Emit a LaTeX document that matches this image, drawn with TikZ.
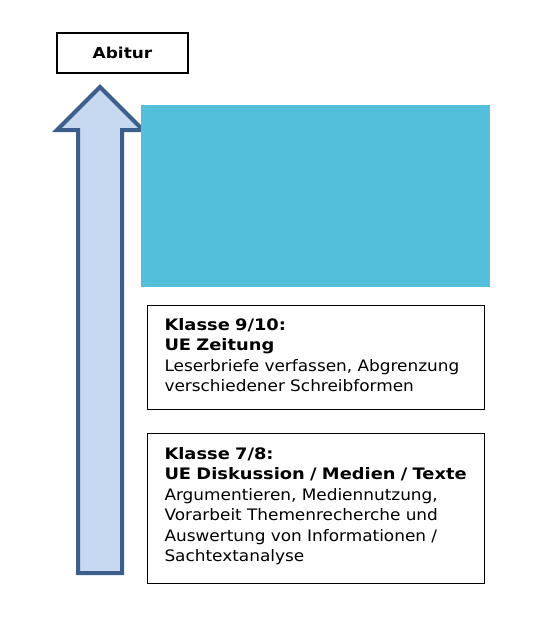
\documentclass[tikz,border=0pt]{standalone}
\usepackage{fontspec}
\setmainfont[FakeStretch=1.07, BoldFeatures={FakeStretch=1.13}]{DejaVu Sans}
\usepackage{tikz}
\usetikzlibrary{positioning}
\definecolor{arrowline}{HTML}{3B5E8C}
\definecolor{arrowfill}{HTML}{C6D9F1}
\definecolor{cyanblock}{HTML}{53BFDB}

\begin{document}
\begin{tikzpicture}[
  x=1pt, y=-1pt,
  box/.style={rectangle, draw=black, line width=1pt, fill=white,
              text width=337pt, align=left, inner sep=0pt,
              font=\fontsize{15.8}{20.5}\selectfont, anchor=north west},
  goal/.style={rectangle, draw=black, line width=1.2pt,
               minimum width=131pt, minimum height=40pt,
               font=\fontsize{15}{17}\selectfont\bfseries}
]
\useasboundingbox (0,0) rectangle (560,630);
\node[goal] (abi) at (122.5,53) {Abitur};
% growth arrow
\filldraw[draw=arrowline, fill=arrowfill, line width=4pt, miter limit=10]
  (100,87) -- (143,130) -- (122,130) -- (122,573) -- (78,573)
  -- (78,130) -- (57,130) -- cycle;
\fill[cyanblock] (141,105) rectangle (490,287);
\node[box, minimum height=104pt] (k910) at (147,305)
  {\rule{0pt}{2pt}\\[-15.5pt]\hspace*{17pt}\parbox[t]{318pt}{\textbf{Klasse 9/10:}\\
   \textbf{UE Zeitung}\\
   Leserbriefe verfassen, Abgrenzung\\
   verschiedener Schreibformen}};
\node[box, minimum height=150pt] (k78) at (147,433)
  {\rule{0pt}{2pt}\\[-15.5pt]\hspace*{17pt}\parbox[t]{318pt}{\textbf{Klasse 7/8:}\\
   \textbf{UE Diskussion / Medien / Texte}\\
   Argumentieren, Mediennutzung,\\
   Vorarbeit Themenrecherche und\\
   Auswertung von Informationen /\\
   Sachtextanalyse}};
\end{tikzpicture}
\end{document}
